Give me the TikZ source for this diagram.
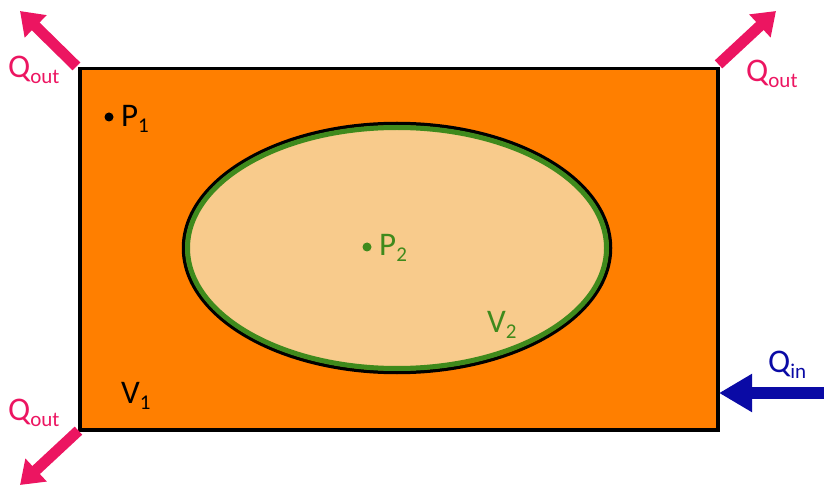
\documentclass[tikz,border=0pt]{standalone}
\usepackage{fontspec}
\setmainfont{Carlito}
\usetikzlibrary{arrows.meta,shapes.geometric}
\definecolor{boxorange}{HTML}{FF7F00}
\definecolor{peach}{HTML}{F8CB8C}
\definecolor{leaf}{HTML}{3F8A1C}
\definecolor{hotpink}{HTML}{EC1561}
\definecolor{navy}{HTML}{0A0AA5}
\newcommand{\lowsub}[1]{\raisebox{-6pt}{\fontsize{21}{21}\selectfont #1}}
\begin{document}
\begin{tikzpicture}[x=1pt,y=-1pt,
  lbl/.style={font=\fontsize{33}{33}\selectfont, inner sep=0pt, anchor=base west},
  heatout/.style={hotpink, line width=11pt, -{Triangle[length=22pt,width=30pt]}, shorten <=-2pt},
  heatin/.style={navy, line width=12pt, -{Triangle[length=33pt,width=36pt]}},
  dotp/.style={circle, fill, inner sep=0pt, minimum size=9pt}]
\useasboundingbox (0,0) rectangle (824,486);
% outer vessel V1
\node (box) [draw=black, line width=3.5pt, fill=boxorange, minimum width=638pt, minimum height=361pt, inner sep=0pt, anchor=north west] at (78,67) {};
% inner region V2
\node (outerring) [ellipse, draw=black, line width=3.5pt, minimum width=427pt, minimum height=249pt, inner sep=0pt] at (397,248) {};
\node (inner) [ellipse, draw=leaf, fill=peach, line width=5pt, minimum width=419pt, minimum height=241pt, inner sep=0pt] at (397,248) {};
% points
\node (p1) [dotp, black] at (109,117) {};
\node (p1t) [lbl, black] at (121,127) {P\lowsub{1}};
\node (p2) [dotp, leaf] at (367,247) {};
\node (p2t) [lbl, leaf] at (379,255) {P\lowsub{2}};
\node (v1t) [lbl, black] at (121,403) {V\lowsub{1}};
\node (v2t) [lbl, leaf] at (487,332) {V\lowsub{2}};
% heat flows
\coordinate (tl) at (75,65);
\coordinate (tlend) at (20,11);
\coordinate (tr) at (720,63);
\coordinate (trend) at (776,11);
\coordinate (bl) at (77,432);
\coordinate (blend) at (20,485);
\coordinate (inend) at (824,393);
\coordinate (inpt) at (719,393);
\draw[heatout] (tl) -- (tlend);
\draw[heatout] (tr) -- (trend);
\draw[heatout] (bl) -- (blend);
\draw[heatin] (inend) -- (inpt);
\node (qo1) [lbl, hotpink] at (8,78) {Q\lowsub{out}};
\node (qo2) [lbl, hotpink] at (746,82) {Q\lowsub{out}};
\node (qo3) [lbl, hotpink] at (8,420) {Q\lowsub{out}};
\node (qin) [lbl, navy] at (768,372) {Q\lowsub{in}};
\end{tikzpicture}
\end{document}
